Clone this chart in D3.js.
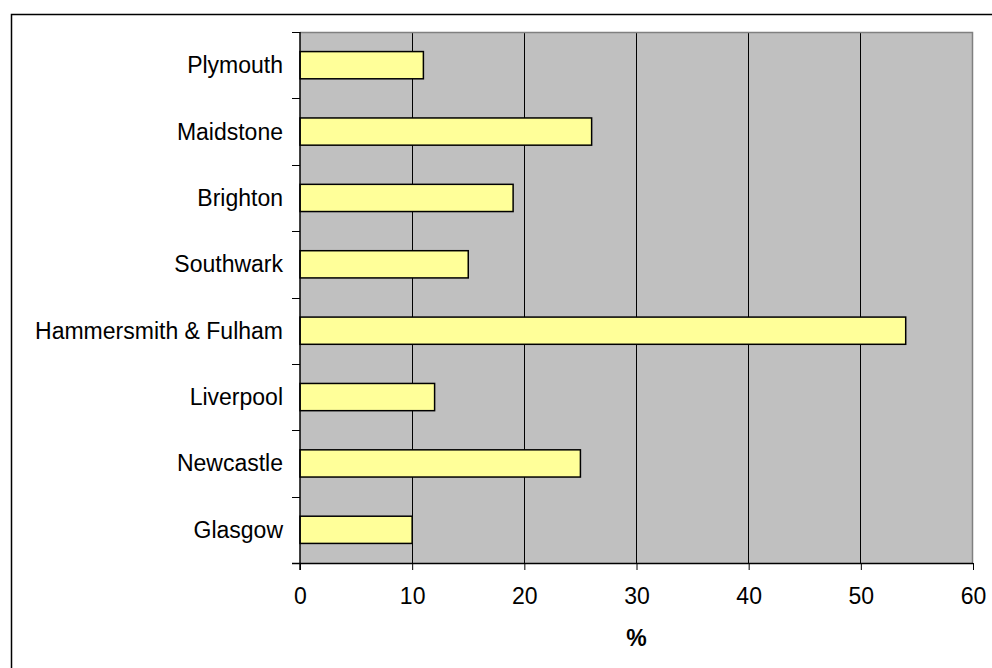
<!DOCTYPE html>
<html><head><meta charset="utf-8">
<script src="https://cdn.jsdelivr.net/npm/d3@7"></script>
<style>body{margin:0;background:#fff}svg{display:block}</style>
</head><body>
<script>
const categories = ["Plymouth","Maidstone","Brighton","Southwark","Hammersmith & Fulham","Liverpool","Newcastle","Glasgow"];
const values = [11,26,19,15,54,12,25,10];
const xTicks = [0,10,20,30,40,50,60];
const xLabel = "%";

const W = 992, H = 668;
const svg = d3.select("body").append("svg").attr("width", W).attr("height", H);
const font = "Arial, 'Liberation Sans', sans-serif";
const fs = 23;

// outer frame
svg.append("rect").attr("x", 11.5).attr("y", 14.5).attr("width", 990).attr("height", 670)
  .attr("fill", "none").attr("stroke", "#000").attr("stroke-width", 1.5);

const L = 300, R = 973, T = 32, B = 563;
const x = d3.scaleLinear().domain([0,60]).range([L,R]);
const y = d3.scaleBand().domain(categories).range([T,B]).paddingInner(0.59).paddingOuter(0.295);
const yb = d3.scaleBand().domain(categories).range([T,B]);

svg.append("rect").attr("x", L).attr("y", T).attr("width", R-L).attr("height", B-T)
  .attr("fill", "#C0C0C0");

// gridlines
svg.append("g").selectAll("line").data(xTicks.filter(d => d > 0 && d < 60)).join("line")
  .attr("x1", d => x(d)).attr("x2", d => x(d)).attr("y1", T).attr("y2", B)
  .attr("stroke", "#000").attr("stroke-width", 1).attr("shape-rendering","crispEdges");

// plot border top/right
svg.append("path").attr("d", `M${L},${T+0.5}H${R-0.5}V${B}`).attr("fill","none")
  .attr("stroke", "#808080").attr("stroke-width", 1.5);

// bars
svg.append("g").selectAll("rect").data(values).join("rect")
  .attr("x", x(0)).attr("y", (d,i) => y(categories[i]))
  .attr("width", d => x(d) - x(0)).attr("height", y.bandwidth())
  .attr("fill", "#FFFF99").attr("stroke", "#000").attr("stroke-width", 1.5);

// x axis
const xa = svg.append("g").attr("transform", `translate(0,${B})`)
  .call(d3.axisBottom(x).tickValues(xTicks).tickSize(7).tickPadding(18));
xa.select(".domain").attr("d", `M${L-8},0.5H${R}`).attr("stroke","#000").attr("stroke-width",1.5);
xa.selectAll(".tick line").attr("stroke","#000");
xa.selectAll("text").attr("font-family", font).attr("font-size", fs).attr("fill","#000");

// y axis
const ya = svg.append("g").attr("transform", `translate(${L},0)`);
ya.append("line").attr("x1",0).attr("x2",0).attr("y1",T).attr("y2",B+7).attr("stroke","#000").attr("stroke-width",1.5);
const boundaries = categories.map(c => yb(c)).concat([B]);
ya.selectAll("line.t").data(boundaries).join("line").attr("class","t")
  .attr("x1",-8).attr("x2",0).attr("y1", d => Math.round(d)+0.5).attr("y2", d => Math.round(d)+0.5)
  .attr("stroke","#000");
ya.selectAll("text").data(categories).join("text")
  .attr("x", -17).attr("y", d => yb(d) + yb.bandwidth()/2).attr("dy","0.35em")
  .attr("text-anchor","end").attr("font-family", font).attr("font-size", fs).text(d => d);

svg.append("text").attr("x", (L+R)/2).attr("y", 646).attr("text-anchor","middle")
  .attr("font-family", font).attr("font-size", fs).attr("font-weight","bold").text(xLabel);
</script>
</body></html>
